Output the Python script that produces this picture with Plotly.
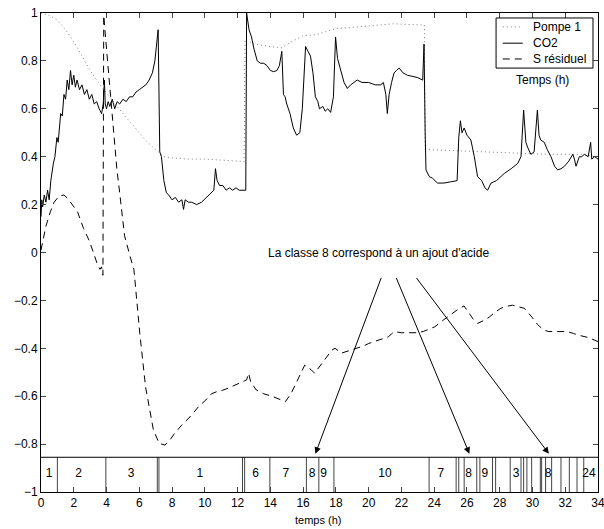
import plotly.graph_objects as go

# ---- data ----
pompe_t = [0, 0.5, 1.0, 1.5, 2.0, 2.5, 3.0, 3.5, 3.85, 4.5, 5.0, 5.5, 6.0, 6.5, 7.0, 7.5, 8.0, 9.0,
           10.0, 11.0, 12.0, 12.4, 12.45, 13.0, 14.0, 14.7, 15.3, 16.0, 16.8, 18.0, 19.0, 20.0, 21.5,
           22.5, 23.4, 23.45, 25.0, 27.0, 29.0, 31.0, 33.0, 34.0]
pompe_v = [1.0, 0.99, 0.97, 0.93, 0.88, 0.82, 0.76, 0.71, 0.68, 0.62, 0.58, 0.54, 0.50, 0.46, 0.43,
           0.40, 0.395, 0.39, 0.39, 0.385, 0.38, 0.38, 0.89, 0.87, 0.86, 0.855, 0.88, 0.905, 0.91,
           0.935, 0.94, 0.945, 0.955, 0.952, 0.95, 0.43, 0.425, 0.42, 0.415, 0.41, 0.41, 0.40]

co2_t = [0.0, 0.05, 0.1, 0.2, 0.3, 0.4, 0.5, 0.6, 0.75, 0.85, 0.97, 1.05, 1.2, 1.3, 1.4, 1.5, 1.6,
         1.7, 1.8, 1.9, 2.0, 2.1, 2.2, 2.35, 2.5, 2.65, 2.8, 2.95, 3.1, 3.25, 3.4, 3.55, 3.7, 3.8,
         3.87, 3.92, 4.0, 4.1, 4.2, 4.35, 4.5, 4.65, 4.8, 5.0, 5.2, 5.4, 5.6, 5.8, 6.0, 6.2, 6.4,
         6.6, 6.8, 6.95, 7.05, 7.15, 7.25, 7.35, 7.5, 7.65, 7.8, 8.0, 8.2, 8.4, 8.6, 8.7, 8.8, 9.0,
         9.2, 9.5, 9.8, 10.1, 10.4, 10.55, 10.65, 10.75, 10.9, 11.1, 11.3, 11.5, 11.7, 11.9, 12.1,
         12.4, 12.5, 12.55, 12.7, 12.85, 13.0, 13.2, 13.4, 13.6, 13.8, 14.0, 14.2, 14.4, 14.55,
         14.7, 14.8, 14.9, 15.0, 15.2, 15.4, 15.6, 15.8, 15.95, 16.05, 16.15, 16.3, 16.45, 16.6,
         16.75, 16.9, 17.0, 17.2, 17.35, 17.5, 17.68, 17.85, 17.98, 18.1, 18.3, 18.5, 18.7, 18.9,
         19.1, 19.3, 19.6, 20.0, 20.4, 20.73, 20.9, 21.05, 21.14, 21.25, 21.4, 21.55, 21.7, 21.86,
         22.1, 22.37, 22.7, 23.0, 23.3, 23.38, 23.45, 23.5, 23.7, 23.9, 24.2, 24.6, 25.0, 25.4,
         25.5, 25.6, 25.7, 25.83, 26.0, 26.24, 26.45, 26.65, 26.9, 27.1, 27.26, 27.47, 27.8, 28.28,
         28.7, 29.1, 29.3, 29.46, 29.6, 29.7, 29.9, 30.1, 30.3, 30.4, 30.5, 30.72, 30.9, 31.13,
         31.35, 31.54, 31.75, 31.95, 32.2, 32.46, 32.56, 32.66, 32.86, 33.0, 33.17, 33.4, 33.55,
         33.62, 33.8, 34.0]
co2_v = [0.15, 0.22, 0.19, 0.24, 0.21, 0.26, 0.22, 0.30, 0.37, 0.40, 0.48, 0.46, 0.58, 0.57, 0.66,
         0.64, 0.72, 0.68, 0.76, 0.70, 0.74, 0.69, 0.72, 0.68, 0.70, 0.66, 0.68, 0.64, 0.66, 0.62,
         0.63, 0.60, 0.58, 0.62, 0.72, 0.62, 0.60, 0.63, 0.61, 0.64, 0.60, 0.63, 0.62, 0.64, 0.63,
         0.65, 0.65, 0.67, 0.68, 0.69, 0.70, 0.72, 0.75, 0.80, 0.88, 0.93, 0.42, 0.40, 0.30, 0.25,
         0.24, 0.22, 0.23, 0.21, 0.22, 0.18, 0.22, 0.21, 0.21, 0.20, 0.21, 0.23, 0.25, 0.26, 0.35,
         0.30, 0.28, 0.28, 0.26, 0.27, 0.26, 0.27, 0.26, 0.26, 0.26, 1.0, 0.93, 0.90, 0.85, 0.80,
         0.79, 0.79, 0.78, 0.76, 0.755, 0.76, 0.78, 0.84, 0.66, 0.65, 0.62, 0.58, 0.52, 0.49, 0.50,
         0.60, 0.71, 0.86, 0.84, 0.82, 0.75, 0.65, 0.63, 0.60, 0.61, 0.59, 0.60, 0.585, 0.65, 0.90,
         0.81, 0.76, 0.71, 0.685, 0.70, 0.71, 0.72, 0.71, 0.71, 0.70, 0.70, 0.71, 0.66, 0.58, 0.66,
         0.71, 0.75, 0.76, 0.77, 0.75, 0.74, 0.735, 0.73, 0.72, 0.87, 0.50, 0.345, 0.317, 0.31,
         0.29, 0.29, 0.295, 0.30, 0.48, 0.55, 0.50, 0.52, 0.49, 0.47, 0.40, 0.317, 0.30, 0.27, 0.26,
         0.29, 0.30, 0.33, 0.35, 0.372, 0.40, 0.595, 0.46, 0.44, 0.41, 0.42, 0.595, 0.49, 0.47,
         0.46, 0.43, 0.40, 0.36, 0.345, 0.35, 0.36, 0.38, 0.41, 0.39, 0.36, 0.40, 0.40, 0.41, 0.40,
         0.46, 0.39, 0.40, 0.39]

s_t = [0.0, 0.3, 0.57, 0.8, 1.1, 1.4, 1.64, 1.9, 2.23, 2.6, 2.94, 3.2, 3.42, 3.6, 3.7, 3.78, 3.83,
       4.0, 4.2, 4.42, 4.63, 4.83, 5.1, 5.44, 5.67, 6.03, 6.38, 6.86, 7.21, 7.57, 7.9, 8.16, 8.6,
       9.1, 9.6, 10.06, 10.4, 10.77, 11.1, 11.48, 12.0, 12.55, 12.67, 12.8, 13.14, 13.6, 14.09,
       14.5, 14.92, 15.27, 15.6, 15.98, 16.1, 16.3, 16.5, 16.7, 16.95, 17.17, 17.5, 17.76, 17.95,
       18.12, 18.35, 18.8, 19.3, 19.7, 20.0, 20.6, 21.2, 21.4, 21.55, 22.0, 22.38, 22.9, 23.33,
       23.7, 24.04, 24.5, 25.0, 25.4, 25.82, 26.1, 26.4, 26.65, 27.0, 27.36, 27.7, 28.07, 28.4,
       28.78, 29.2, 29.5, 29.97, 30.3, 30.68, 31.0, 31.4, 32.1, 32.5, 32.8, 33.4, 34.0]
s_v = [0.01, 0.11, 0.17, 0.21, 0.235, 0.24, 0.225, 0.20, 0.17, 0.10, 0.05, 0.0, -0.045, -0.07,
       -0.06, -0.095, 0.99, 0.85, 0.68, 0.50, 0.35, 0.233, 0.07, -0.017, -0.07, -0.337, -0.56,
       -0.74, -0.797, -0.804, -0.78, -0.755, -0.72, -0.686, -0.645, -0.616, -0.59, -0.58, -0.575,
       -0.565, -0.55, -0.532, -0.504, -0.54, -0.574, -0.59, -0.60, -0.61, -0.623, -0.588, -0.54,
       -0.484, -0.47, -0.48, -0.49, -0.504, -0.48, -0.46, -0.43, -0.407, -0.40, -0.41, -0.42,
       -0.41, -0.40, -0.39, -0.38, -0.365, -0.352, -0.34, -0.33, -0.335, -0.335, -0.335, -0.33,
       -0.32, -0.31, -0.285, -0.26, -0.24, -0.223, -0.25, -0.28, -0.296, -0.285, -0.27, -0.25,
       -0.233, -0.225, -0.22, -0.228, -0.233, -0.27, -0.30, -0.324, -0.33, -0.33, -0.33, -0.338,
       -0.345, -0.355, -0.372]

series_names = ["Pompe 1", "CO2", "S résiduel"]
series_colors = ["#7f7f7f", "black", "black"]
series_dashes = ["1px,3px", "solid", "7px,5px"]

# class band
band_bottom = -1.0
band_top = -0.855
class_bounds = [1.0, 3.96, 7.1, 7.2, 12.3, 12.43, 13.97, 16.2, 16.96, 17.88, 23.69, 25.34, 25.5,
                25.83, 26.6, 26.79, 27.56, 27.75, 28.64, 29.3, 29.46, 29.66, 29.95, 30.48, 30.56,
                30.8, 31.17, 31.74, 32.25, 32.72, 33.13]
class_label_x = [0.5, 2.3, 5.5, 9.7, 13.1, 14.95, 16.55, 17.25, 21.0, 24.4, 26.1, 27.1, 29.0,
                 30.95, 33.45]
class_labels = ["1", "2", "3", "1", "6", "7", "8", "9", "10", "7", "8", "9", "3", "8", "24"]

note_text = "La classe 8 correspond à un ajout d'acide"
note_x, note_y = 20.6, 0.0
arrow_head_x = [16.75, 26.15, 31.0]
arrow_tail_x = [20.8, 21.65, 22.85]
arrow_head_y = -0.84
arrow_tail_y = -0.10

x_ticks = list(range(0, 35, 2))
y_ticks = [-1, -0.8, -0.6, -0.4, -0.2, 0, 0.2, 0.4, 0.6, 0.8, 1]
y_tick_text = ["\u22121", "\u22120.8", "\u22120.6", "\u22120.4", "\u22120.2", "0", "0.2", "0.4",
               "0.6", "0.8", "1"]

FONT = "Liberation Sans, Arial, Helvetica, sans-serif"

fig = go.Figure()

# band outline lines
bx, by = [], []
for b in class_bounds:
    bx += [b, b, None]
    by += [band_bottom, band_top, None]
fig.add_trace(go.Scatter(x=bx, y=by, mode="lines", line=dict(color="#444444", width=1),
                         showlegend=False, hoverinfo="skip"))
fig.add_trace(go.Scatter(x=[0, 34], y=[band_top, band_top], mode="lines",
                         line=dict(color="black", width=1), showlegend=False, hoverinfo="skip"))
fig.add_trace(go.Scatter(x=class_label_x, y=[-0.925] * len(class_label_x), mode="text",
                         text=class_labels, textfont=dict(family=FONT, size=12, color="black"),
                         showlegend=False, hoverinfo="skip"))

for name, t, v, c, d in zip(series_names, [pompe_t, co2_t, s_t], [pompe_v, co2_v, s_v],
                            series_colors, series_dashes):
    fig.add_trace(go.Scatter(x=t, y=v, mode="lines", name=name, showlegend=False,
                             line=dict(color=c, width=1, dash=d)))

annotations = [dict(x=note_x, y=note_y, xref="x", yref="y", text=note_text, showarrow=False,
                    xanchor="center", yanchor="middle",
                    font=dict(family=FONT, size=12, color="black")),
               dict(x=0.8995, y=0.86, xref="paper", yref="paper", text="Temps (h)",
                    showarrow=False, xanchor="center", yanchor="middle",
                    font=dict(family=FONT, size=12, color="black")),
               dict(x=0.497, y=-0.058, xref="paper", yref="paper", text="temps (h)",
                    showarrow=False, xanchor="center", yanchor="middle",
                    font=dict(family=FONT, size=11, color="black"))]
for hx, tx in zip(arrow_head_x, arrow_tail_x):
    annotations.append(dict(x=hx, y=arrow_head_y, ax=tx, ay=arrow_tail_y, xref="x", yref="y",
                            axref="x", ayref="y", text="", showarrow=True, arrowhead=2,
                            arrowsize=1.3, arrowwidth=1, arrowcolor="black"))

# legend box (drawn by hand to match the compact original)
shapes = [dict(type="rect", xref="paper", yref="paper", x0=0.817, x1=0.991, y0=0.885, y1=0.9896,
               line=dict(color="black", width=1), fillcolor="white", layer="above")]
leg_y = [0.971, 0.937, 0.904]
for name, c, d, ly in zip(series_names, series_colors, series_dashes, leg_y):
    shapes.append(dict(type="line", xref="paper", yref="paper", x0=0.829, x1=0.865, y0=ly, y1=ly,
                       line=dict(color=c, width=1, dash=d), layer="above"))
    annotations.append(dict(x=0.879, y=ly, xref="paper", yref="paper", text=name,
                            showarrow=False, xanchor="left", yanchor="middle",
                            font=dict(family=FONT, size=12, color="black")))

fig.update_layout(
    width=604, height=529,
    margin=dict(l=41, r=6, t=13, b=37),
    paper_bgcolor="white", plot_bgcolor="white",
    font=dict(family=FONT, size=11, color="black"),
    showlegend=False,
    annotations=annotations,
    shapes=shapes,
)
fig.update_xaxes(range=[0, 34], tickvals=x_ticks, ticks="inside", ticklen=5, showline=True,
                 linecolor="black", linewidth=1, mirror="ticks", showgrid=False, zeroline=False,
                 automargin=False, ticklabeloverflow="allow", tickfont=dict(family=FONT, size=12))
fig.update_yaxes(range=[-1, 1], tickvals=y_ticks, ticktext=y_tick_text, ticks="inside",
                 ticklen=5, showline=True, linecolor="black", linewidth=1, mirror="ticks",
                 showgrid=False, zeroline=False, automargin=False,
                 tickfont=dict(family=FONT, size=12))

fig.write_html("out.html")
